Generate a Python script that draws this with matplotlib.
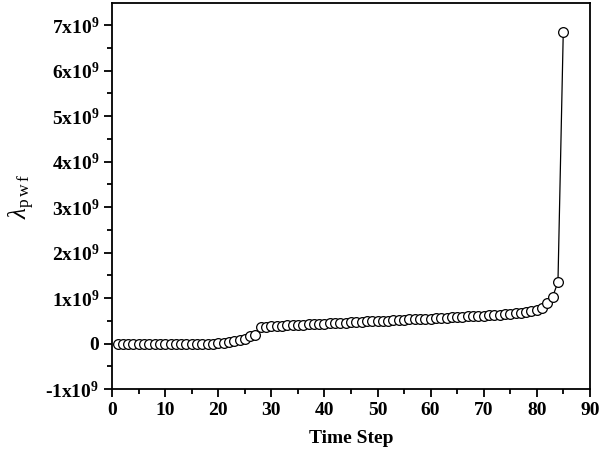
import numpy as np
import matplotlib.pyplot as plt
from matplotlib.ticker import MultipleLocator, FuncFormatter

# Giá trị (đơn vị 1e9)
time_step = np.arange(1, 86)
lam_pwf = [
    0.00, 0.00, 0.00, 0.00, 0.00, 0.00, 0.00, 0.00, 0.00, 0.00,
    0.00, 0.00, 0.00, 0.00, 0.00, 0.00, 0.00, 0.00, 0.00, 0.01,
    0.02, 0.04, 0.06, 0.08, 0.10, 0.17, 0.18, 0.36, 0.37, 0.38,
    0.385, 0.39, 0.40, 0.405, 0.41, 0.415, 0.42, 0.43, 0.435, 0.44,
    0.445, 0.45, 0.455, 0.46, 0.47, 0.475, 0.48, 0.485, 0.49, 0.495,
    0.50, 0.505, 0.51, 0.52, 0.525, 0.53, 0.535, 0.54, 0.545, 0.55,
    0.56, 0.565, 0.57, 0.575, 0.58, 0.59, 0.595, 0.60, 0.605, 0.61,
    0.62, 0.625, 0.63, 0.64, 0.65, 0.66, 0.67, 0.69, 0.71, 0.74,
    0.79, 0.88, 1.03, 1.35, 6.85,
]
lam_pwf = np.array(lam_pwf) * 1e9

plt.rcParams['font.family'] = ['Liberation Serif', 'DejaVu Serif']
plt.rcParams['mathtext.fontset'] = 'custom'
plt.rcParams['mathtext.rm'] = 'Liberation Serif'
plt.rcParams['mathtext.it'] = 'Liberation Serif:italic'
plt.rcParams['mathtext.bf'] = 'Liberation Serif:bold'

fig = plt.figure(figsize=(6, 4.55), dpi=100)
ax = fig.add_axes([0.187, 0.145, 0.796, 0.848])

ax.plot(time_step, lam_pwf, color='black', lw=0.9, marker='o', ms=7,
        mfc='white', mec='black', mew=0.9)

ax.set_xlim(0, 90)
ax.set_ylim(-1e9, 7.48e9)
ax.xaxis.set_major_locator(MultipleLocator(10))
ax.xaxis.set_minor_locator(MultipleLocator(5))
ax.yaxis.set_major_locator(MultipleLocator(1e9))
ax.yaxis.set_minor_locator(MultipleLocator(0.5e9))


def fmt(v, pos):
    n = int(round(v / 1e9))
    if n == 0:
        return '0'
    return '%dx10$^{\\mathbf{9}}$' % n


ax.yaxis.set_major_formatter(FuncFormatter(fmt))
ax.tick_params(which='major', direction='out', length=6, width=1.3, labelsize=14)
ax.tick_params(which='minor', direction='out', length=3.5, width=1.3)
for lab in ax.get_xticklabels() + ax.get_yticklabels():
    lab.set_fontweight('bold')
for s in ax.spines.values():
    s.set_linewidth(1.3)

ax.set_xlabel('Time Step', fontsize=14, fontweight='bold', labelpad=8)
ax.set_ylabel(r'$\lambda_{\rm p\,w\,f}$', fontsize=18, labelpad=6)

fig.savefig('out.png', dpi=100)
